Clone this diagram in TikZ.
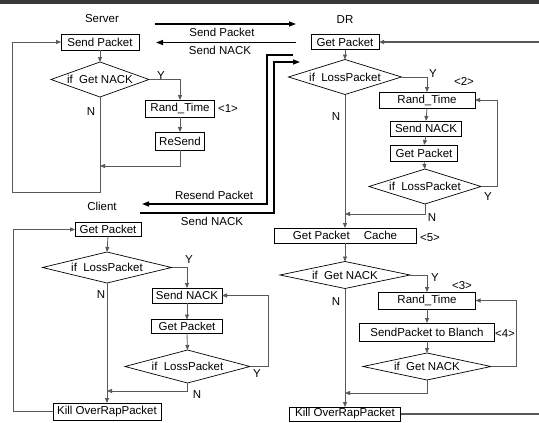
\documentclass[tikz,border=0pt]{standalone}
\usepackage{fontspec}
\setmainfont{Liberation Sans}
\usetikzlibrary{shapes.geometric,arrows.meta}
\newcommand\figfont{\fontsize{11.5}{13}\selectfont}
\begin{document}
\begin{tikzpicture}[x=1pt,y=-1pt,font=\figfont,
  box/.style={draw=black,line width=0.7pt,inner sep=0pt,outer sep=0pt,rectangle},
  dia/.style={draw=black,line width=0.7pt,diamond,inner sep=0pt,outer sep=0pt},
  conn/.style={draw=black!65,line width=0.8pt},
  arr/.style={-{Triangle[length=5pt,width=4pt]}},
  big/.style={draw=black,line width=1.5pt},
  bigarr/.style={-{Triangle[length=7pt,width=5pt]}},
  lbl/.style={inner sep=0pt}]
\useasboundingbox (0,0) rectangle (539,423);
\fill[black!78] (0,0) rectangle (539,4);

% ---------------- Server ----------------
\node[lbl] (lserver) at (102,19) {Server};
\node[box,minimum width=78pt,minimum height=16pt] (sp1) at (100,42) {Send Packet};
\node[dia,minimum width=98pt,minimum height=35pt,label=center:{if~~Get NACK}] (d1) at (100,79.5) {};
\node[box,minimum width=69pt,minimum height=17pt] (rt1) at (180,108.5) {Rand\_Time};
\node[box,minimum width=49pt,minimum height=18pt] (rs1) at (180,141) {ReSend};
\node[lbl] (n1) at (228,109) {<1>};
\node[lbl] (y1) at (161,76) {Y};
\node[lbl] (nn1) at (91,112) {N};
\coordinate (j1) at (100,166);
\coordinate (c1) at (12,192);
\draw[conn,arr] (sp1.south) -- (d1.north);
\draw[conn,arr] (d1.east) -| (rt1.north);
\draw[conn,arr] (rt1.south) -- (rs1.north);
\draw[conn,arr] (rs1.south) |- (j1);
\draw[conn,arr] (d1.south) |- (c1) |- (sp1.west);

% ---------------- long links ----------------
\coordinate (a1s) at (155,24);  \coordinate (a1e) at (296,24);
\coordinate (a2s) at (296,42.5); \coordinate (a2e) at (156,42.5);
\coordinate (a3s) at (293,55);  \coordinate (a3e) at (142,204);
\coordinate (a4s) at (140,213); \coordinate (a4e) at (300,62);
\draw[big,bigarr] (a1s) -- (a1e);
\draw[big,bigarr] (a2s) -- (a2e);
\draw[big,bigarr] (a3s) -- (267,55) -- (267,204) -- (a3e);
\draw[big,bigarr] (a4s) -- (274,213) -- (274,62) -- (a4e);
\node[lbl] (t1) at (222,32.5) {Send Packet};
\node[lbl] (t2) at (220,50.5) {Send NACK};
\node[lbl] (t3) at (214,195) {Resend Packet};
\node[lbl] (t4) at (212,221.5) {Send NACK};

% ---------------- DR ----------------
\node[lbl] (ldr) at (345,20) {DR};
\node[box,minimum width=68pt,minimum height=15pt] (gp2) at (345,42) {Get Packet};
\coordinate (rin) at (539,42);
\draw[conn,arr,line width=1.1pt] (rin) -- (gp2.east);
\node[dia,minimum width=113pt,minimum height=35pt,label=center:{if~~LossPacket}] (d2) at (345,77) {};
\draw[conn,arr] (gp2.south) -- (d2.north);
\node[box,minimum width=96pt,minimum height=16pt] (rt2) at (427,100) {Rand\_Time};
\node[box,minimum width=71pt,minimum height=15pt] (sn2) at (426,128.5) {Send NACK};
\node[box,minimum width=67pt,minimum height=16pt] (gp2b) at (424,153) {Get Packet};
\node[dia,minimum width=112pt,minimum height=35pt,label=center:{if~~LossPacket}] (d2b) at (425,186.5) {};
\coordinate (c2) at (497,186.5);
\coordinate (j2) at (345,214);
\draw[conn,arr] (d2.east) -| (rt2.north);
\draw[conn,arr] (rt2.south) -- (sn2.north);
\draw[conn,arr] (sn2.south) -- (gp2b.north);
\draw[conn,arr] (gp2b.south) -- (d2b.north);
\draw[conn,arr] (d2b.east) -- (c2) |- (rt2.east);
\draw[conn,arr] (d2b.south) |- (j2);
\node[lbl] at (433,74) {Y};
\node[lbl] at (464,81) {<2>};
\node[lbl] at (488,197) {Y};
\node[lbl] at (432,218) {N};
\node[lbl] at (336,117) {N};

\node[box,minimum width=142pt,minimum height=15pt] (gpc) at (345,235.5) {\raisebox{-2pt}{Get Packet\hspace{14pt}Cache}};
\draw[conn,arr] (d2.south) -- (gpc.north);
\node[lbl] at (430,238) {<5>};
\node[dia,minimum width=130pt,minimum height=27pt,label=center:{if~~Get NACK}] (d3) at (345,275) {};
\draw[conn,arr] (gpc.south) -- (d3.north);
\node[box,minimum width=97pt,minimum height=17pt] (rt3) at (427,300.5) {Rand\_Time};
\node[box,minimum width=135pt,minimum height=18pt] (sp3) at (427,332) {SendPacket to Blanch};
\node[dia,minimum width=128pt,minimum height=27pt,label=center:{if~~Get NACK}] (d4) at (427,366.5) {};
\coordinate (c3) at (516,366.5);
\coordinate (j3) at (345,393);
\draw[conn,arr] (d3.east) -| (rt3.north);
\draw[conn,arr] (rt3.south) -- (sp3.north);
\draw[conn,arr] (sp3.south) -- (d4.north);
\draw[conn,arr] (d4.east) -- (c3) |- (rt3.east);
\draw[conn,arr] (d4.south) |- (j3);
\node[lbl] at (435,278) {Y};
\node[lbl] at (462,286) {<3>};
\node[lbl] at (505,334) {<4>};
\node[lbl] at (336,302) {N};
\node[box,minimum width=111pt,minimum height=14pt] (kill2) at (345,414) {Kill OverRapPacket};
\draw[conn,arr] (d3.south) -- (kill2.north);
\coordinate (rout) at (539,414);
\draw[conn,line width=1.2pt] (kill2.east) -- (rout);

% ---------------- Client ----------------
\node[lbl] (lclient) at (102,206) {Client};
\node[box,minimum width=66pt,minimum height=14pt] (gp4) at (108,229.5) {Get Packet};
\node[dia,minimum width=129pt,minimum height=31pt,label=center:{if~~LossPacket}] (d5) at (107,267.5) {};
\node[box,minimum width=70pt,minimum height=15pt] (sn4) at (187,295.5) {Send NACK};
\node[box,minimum width=71pt,minimum height=14pt] (gp4b) at (187,326.5) {Get Packet};
\node[dia,minimum width=125pt,minimum height=33pt,label=center:{if~~LossPacket}] (d6) at (187.5,366.5) {};
\node[box,minimum width=108pt,minimum height=17pt] (kill4) at (107,411.5) {Kill OverRapPacket};
\coordinate (c4) at (268,366.5);
\coordinate (j4) at (107,391);
\coordinate (c5) at (13,411.5);
\draw[conn,arr] (gp4.south) -- (d5.north);
\draw[conn,arr] (d5.east) -| (sn4.north);
\draw[conn,arr] (sn4.south) -- (gp4b.north);
\draw[conn,arr] (gp4b.south) -- (d6.north);
\draw[conn,arr] (d6.east) -- (c4) |- (sn4.east);
\draw[conn,arr] (d6.south) |- (j4);
\draw[conn,arr] (d5.south) -- (kill4.north);
\draw[conn,arr] (kill4.west) -- (c5) |- (gp4.west);
\node[lbl] at (189,260) {Y};
\node[lbl] at (101,295) {N};
\node[lbl] at (257,374) {Y};
\node[lbl] at (197,395) {N};
\end{tikzpicture}
\end{document}
